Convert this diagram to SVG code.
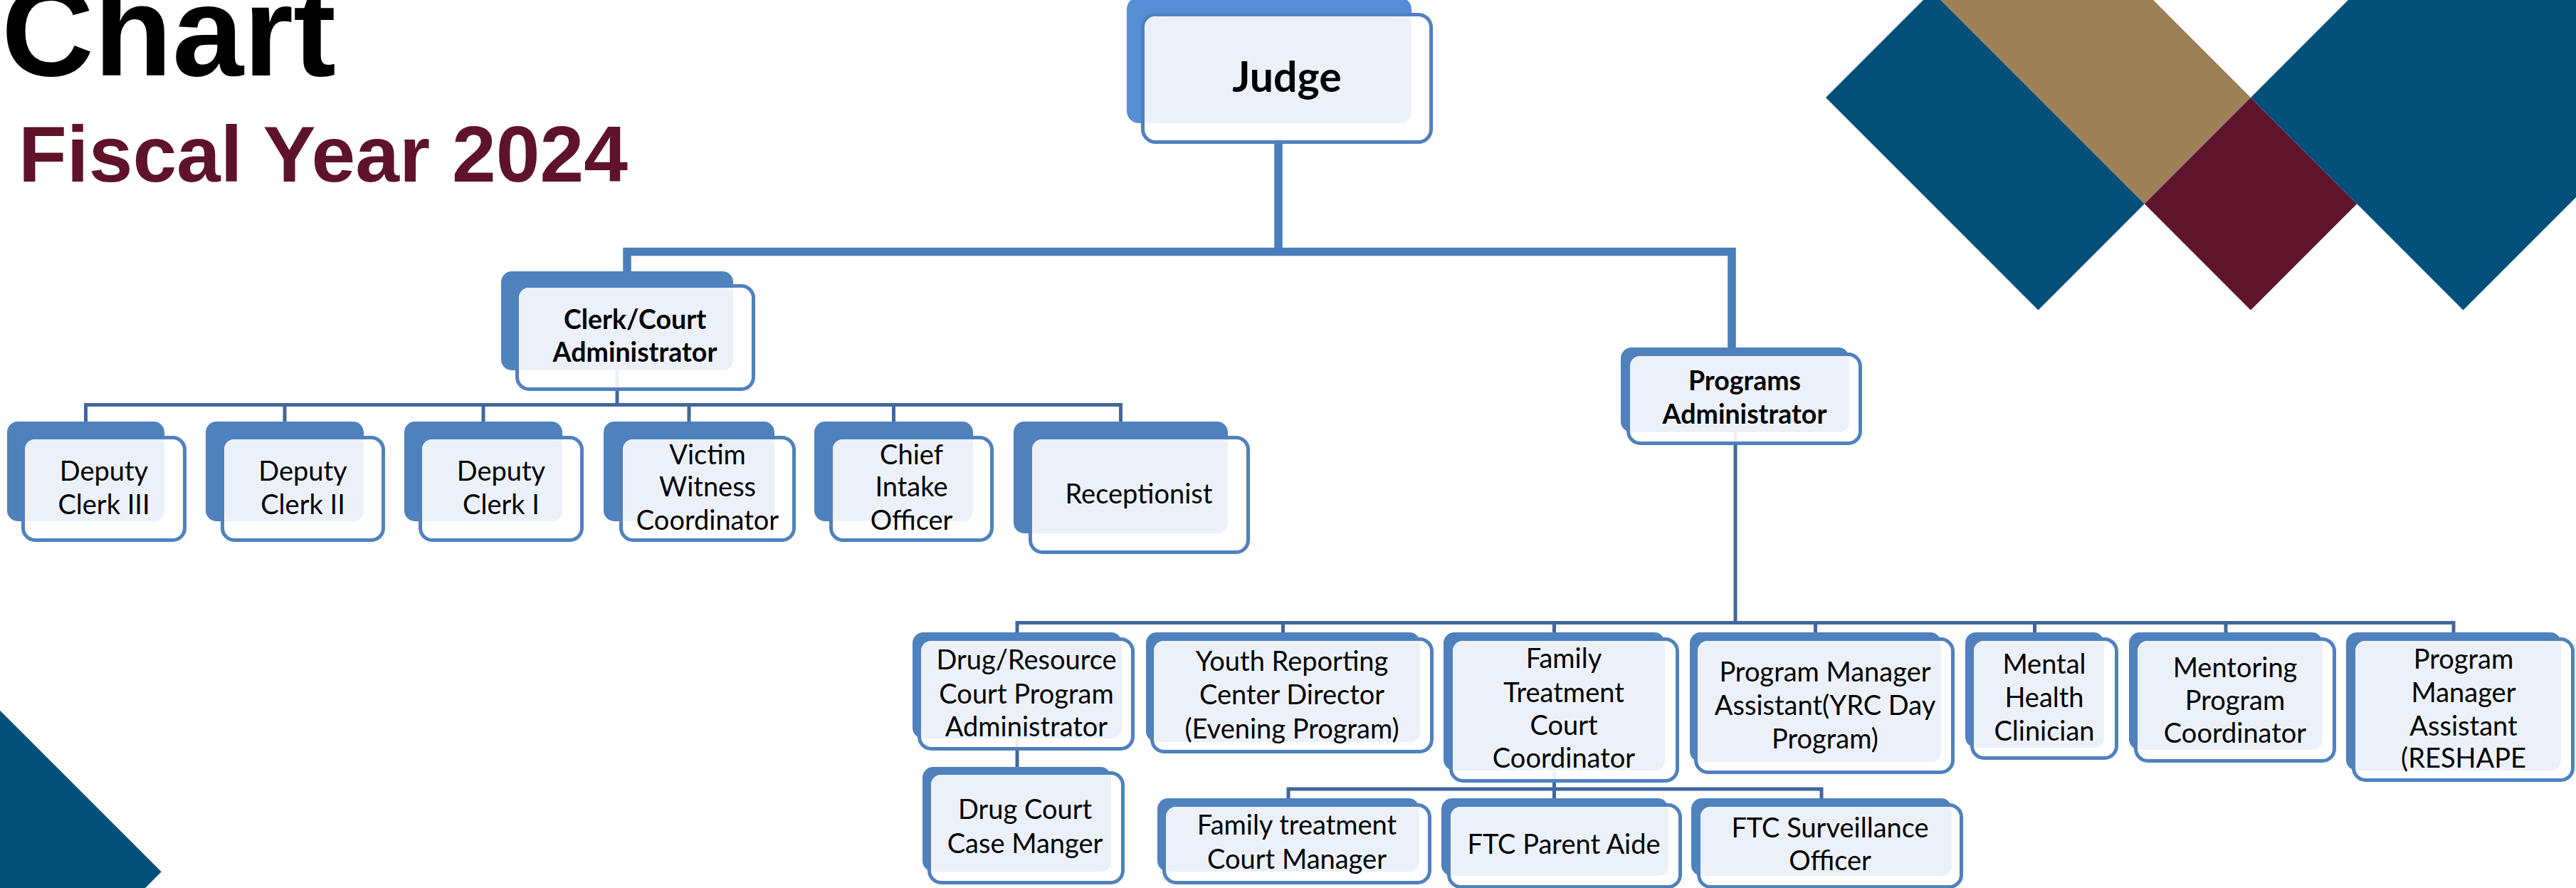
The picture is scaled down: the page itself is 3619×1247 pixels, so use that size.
<svg xmlns="http://www.w3.org/2000/svg" width="3619" height="1247" viewBox="0 0 3619 1247">
<style>
.bk{fill:#4F81BD}
.bkj{fill:#558ED5}
.fr{fill:#fff;fill-opacity:0.9;stroke:#4F81BD;stroke-width:5}
.lt{fill:#ECF1F9}
.t{font-family:Lato,"Open Sans",sans-serif;font-size:38px;fill:#000;text-anchor:middle}
.b{font-weight:700;font-size:37.5px}
.jt{font-weight:700;font-size:59px}
.thick{stroke:#4A7EBB;stroke-width:11.5;fill:none}
.thin{stroke:#41679C;stroke-width:5;fill:none}
.blue{fill:#02507A}
</style>
<rect width="3619" height="1247" fill="#fff"/>
<g id="decor">
<polygon class="blue" points="2565,137 2863.5,435.5 3012.75,286.25 2714.25,-12.25"/>
<polygon fill="#9B8058" points="2706.5,-20 3005,-20 3162,137 3012.75,286.25"/>
<polygon fill="#5E152B" points="3012.75,286.25 3162,137 3311.25,286.25 3162,435.5"/>
<polygon class="blue" points="3162,137 3460.5,435.5 3640,256 3640,-20 3319,-20"/>
<polygon class="blue" points="0,997.7 226.7,1224.3 180,1271 0,1271"/>
</g>
<g id="title">
<text x="2" y="106" font-family="Liberation Sans,Arial,sans-serif" font-weight="700" font-size="180" fill="#000">Chart</text>
<text x="26" y="255" font-family="Liberation Sans,Arial,sans-serif" font-weight="700" font-size="111" fill="#5E132B">Fiscal Year 2024</text>
</g>
<g id="connectors">
<path class="thick" d="M1796,195 V353.5"/>
<path class="thick" d="M881,395 V353.5 H2433 V495"/>
<path class="thin" d="M867,520 V568.5"/>
<path class="thin" d="M120.5,592 V568.5 H1574.5 V592 M400,568.5 V592 M679,568.5 V592 M968,568.5 V592 M1255.5,568.5 V592"/>
<path class="thin" d="M2438,607 V874.5"/>
<path class="thin" d="M1429,888 V874.5 H3447 V888 M1802.5,874.5 V888 M2183.5,874.5 V888 M2550.5,874.5 V888 M2858.5,874.5 V888 M3127,874.5 V888"/>
<path class="thin" d="M1429,1037 V1077"/>
<path class="thin" d="M2183.5,1082 V1121 M1810,1121 V1108 H2559 V1121"/>
</g>
<g id="judge">
<rect class="bkj" x="1583" y="-4" width="400" height="177" rx="17"/>
<rect class="fr" x="1605.5" y="20.5" width="405" height="179" rx="18"/>
<rect class="lt" x="1608" y="23" width="375" height="150" rx="15"/>
<text class="t jt" x="1808" y="129">Judge</text>
</g>
<g id="clerk">
<rect class="bk" x="704" y="381" width="326" height="139" rx="15"/>
<rect class="fr" x="726.5" y="401.5" width="332" height="145" rx="17"/>
<rect class="lt" x="729" y="404" width="301" height="116" rx="14"/>
<text class="t b" x="892" y="462">Clerk/Court</text>
<text class="t b" x="892" y="508">Administrator</text>
</g>
<g id="programs">
<rect class="bk" x="2277" y="488" width="321" height="119" rx="15"/>
<rect class="fr" x="2287.5" y="497.5" width="326" height="125" rx="17"/>
<rect class="lt" x="2290" y="500" width="308" height="107" rx="14"/>
<text class="t b" x="2451" y="548">Programs</text>
<text class="t b" x="2451" y="595">Administrator</text>
</g>
<g id="deputy3">
<rect class="bk" x="10" y="592" width="221" height="140" rx="15"/>
<rect class="fr" x="32.5" y="614.5" width="227" height="144" rx="17"/>
<rect class="lt" x="35" y="617" width="196" height="115" rx="14"/>
<text class="t" x="146" y="675">Deputy</text>
<text class="t" x="146" y="722">Clerk III</text>
</g>
<g id="deputy2">
<rect class="bk" x="289" y="592" width="222" height="140" rx="15"/>
<rect class="fr" x="312.5" y="614.5" width="226" height="144" rx="17"/>
<rect class="lt" x="315" y="617" width="196" height="115" rx="14"/>
<text class="t" x="425.5" y="675">Deputy</text>
<text class="t" x="425.5" y="722">Clerk II</text>
</g>
<g id="deputy1">
<rect class="bk" x="568" y="592" width="222" height="140" rx="15"/>
<rect class="fr" x="590.5" y="614.5" width="227" height="144" rx="17"/>
<rect class="lt" x="593" y="617" width="197" height="115" rx="14"/>
<text class="t" x="704" y="675">Deputy</text>
<text class="t" x="704" y="722">Clerk I</text>
</g>
<g id="victim">
<rect class="bk" x="848" y="592" width="240" height="140" rx="15"/>
<rect class="fr" x="872.5" y="614.5" width="243" height="144" rx="17"/>
<rect class="lt" x="875" y="617" width="213" height="115" rx="14"/>
<text class="t" x="994" y="652">Victim</text>
<text class="t" x="994" y="697">Witness</text>
<text class="t" x="994" y="744">Coordinator</text>
</g>
<g id="chief">
<rect class="bk" x="1144" y="592" width="223" height="140" rx="15"/>
<rect class="fr" x="1167.5" y="614.5" width="226" height="144" rx="17"/>
<rect class="lt" x="1170" y="617" width="197" height="115" rx="14"/>
<text class="t" x="1280.5" y="652">Chief</text>
<text class="t" x="1280.5" y="697">Intake</text>
<text class="t" x="1280.5" y="744">Officer</text>
</g>
<g id="receptionist">
<rect class="bk" x="1424" y="592" width="301" height="157" rx="15"/>
<rect class="fr" x="1447.5" y="614.5" width="306" height="161" rx="17"/>
<rect class="lt" x="1450" y="617" width="275" height="132" rx="14"/>
<text class="t" x="1600" y="707">Receptionist</text>
</g>
<g id="drugresource">
<rect class="bk" x="1282" y="888" width="294" height="149" rx="15"/>
<rect class="fr" x="1291.5" y="897.5" width="300" height="154" rx="17"/>
<rect class="lt" x="1294" y="900" width="282" height="137" rx="14"/>
<text class="t" x="1442" y="940">Drug/Resource</text>
<text class="t" x="1442" y="988">Court Program</text>
<text class="t" x="1442" y="1034">Administrator</text>
</g>
<g id="youth">
<rect class="bk" x="1610" y="888" width="385" height="154" rx="15"/>
<rect class="fr" x="1618.5" y="897.5" width="393" height="158" rx="17"/>
<rect class="lt" x="1621" y="900" width="374" height="142" rx="14"/>
<text class="t" x="1815" y="942">Youth Reporting</text>
<text class="t" x="1815" y="989">Center Director</text>
<text class="t" x="1815" y="1037">(Evening Program)</text>
</g>
<g id="familycoord">
<rect class="bk" x="2028" y="888" width="311" height="194" rx="15"/>
<rect class="fr" x="2038.5" y="897.5" width="318" height="199" rx="17"/>
<rect class="lt" x="2041" y="900" width="298" height="182" rx="14"/>
<text class="t" x="2197" y="938">Family</text>
<text class="t" x="2197" y="986">Treatment</text>
<text class="t" x="2197" y="1032">Court</text>
<text class="t" x="2197" y="1078">Coordinator</text>
</g>
<g id="pmayrc">
<rect class="bk" x="2374" y="888" width="353" height="182" rx="15"/>
<rect class="fr" x="2382.5" y="897.5" width="361" height="187" rx="17"/>
<rect class="lt" x="2385" y="900" width="342" height="170" rx="14"/>
<text class="t" x="2564" y="957">Program Manager</text>
<text class="t" x="2564" y="1004">Assistant(YRC Day</text>
<text class="t" x="2564" y="1051">Program)</text>
</g>
<g id="mental">
<rect class="bk" x="2761" y="888" width="195" height="162" rx="15"/>
<rect class="fr" x="2770.5" y="897.5" width="203" height="167" rx="17"/>
<rect class="lt" x="2773" y="900" width="183" height="150" rx="14"/>
<text class="t" x="2872" y="946">Mental</text>
<text class="t" x="2872" y="993">Health</text>
<text class="t" x="2872" y="1040">Clinician</text>
</g>
<g id="mentoring">
<rect class="bk" x="2991" y="888" width="272" height="165" rx="15"/>
<rect class="fr" x="3000.5" y="897.5" width="279" height="171" rx="17"/>
<rect class="lt" x="3003" y="900" width="260" height="153" rx="14"/>
<text class="t" x="3140" y="951">Mentoring</text>
<text class="t" x="3140" y="997">Program</text>
<text class="t" x="3140" y="1043">Coordinator</text>
</g>
<g id="reshape">
<rect class="bk" x="3296" y="888" width="302" height="194" rx="15"/>
<rect class="fr" x="3306.5" y="897.5" width="308" height="198" rx="17"/>
<rect class="lt" x="3309" y="900" width="289" height="182" rx="14"/>
<text class="t" x="3461" y="939">Program</text>
<text class="t" x="3461" y="986">Manager</text>
<text class="t" x="3461" y="1033">Assistant</text>
<text class="t" x="3461" y="1078">(RESHAPE</text>
</g>
<g id="drugcourt">
<rect class="bk" x="1296" y="1077" width="265" height="147" rx="15"/>
<rect class="fr" x="1305.5" y="1085.5" width="272" height="154" rx="17"/>
<rect class="lt" x="1308" y="1088" width="253" height="136" rx="14"/>
<text class="t" x="1440" y="1150">Drug Court</text>
<text class="t" x="1440" y="1198">Case Manger</text>
</g>
<g id="ftcmanager">
<rect class="bk" x="1626" y="1121" width="368" height="103" rx="15"/>
<rect class="fr" x="1635.5" y="1130.5" width="373" height="109" rx="17"/>
<rect class="lt" x="1638" y="1133" width="356" height="91" rx="14"/>
<text class="t" x="1822" y="1172">Family treatment</text>
<text class="t" x="1822" y="1220">Court Manager</text>
</g>
<g id="ftcaide">
<rect class="bk" x="2025" y="1121" width="319" height="109" rx="15"/>
<rect class="fr" x="2035.5" y="1130.5" width="325" height="115" rx="17"/>
<rect class="lt" x="2038" y="1133" width="306" height="97" rx="14"/>
<text class="t" x="2197" y="1199">FTC Parent Aide</text>
</g>
<g id="ftcsurveillance">
<rect class="bk" x="2376" y="1121" width="366" height="109" rx="15"/>
<rect class="fr" x="2386.5" y="1130.5" width="369" height="115" rx="17"/>
<rect class="lt" x="2389" y="1133" width="353" height="97" rx="14"/>
<text class="t" x="2571" y="1176">FTC Surveillance</text>
<text class="t" x="2571" y="1222">Officer</text>
</g>
</svg>
